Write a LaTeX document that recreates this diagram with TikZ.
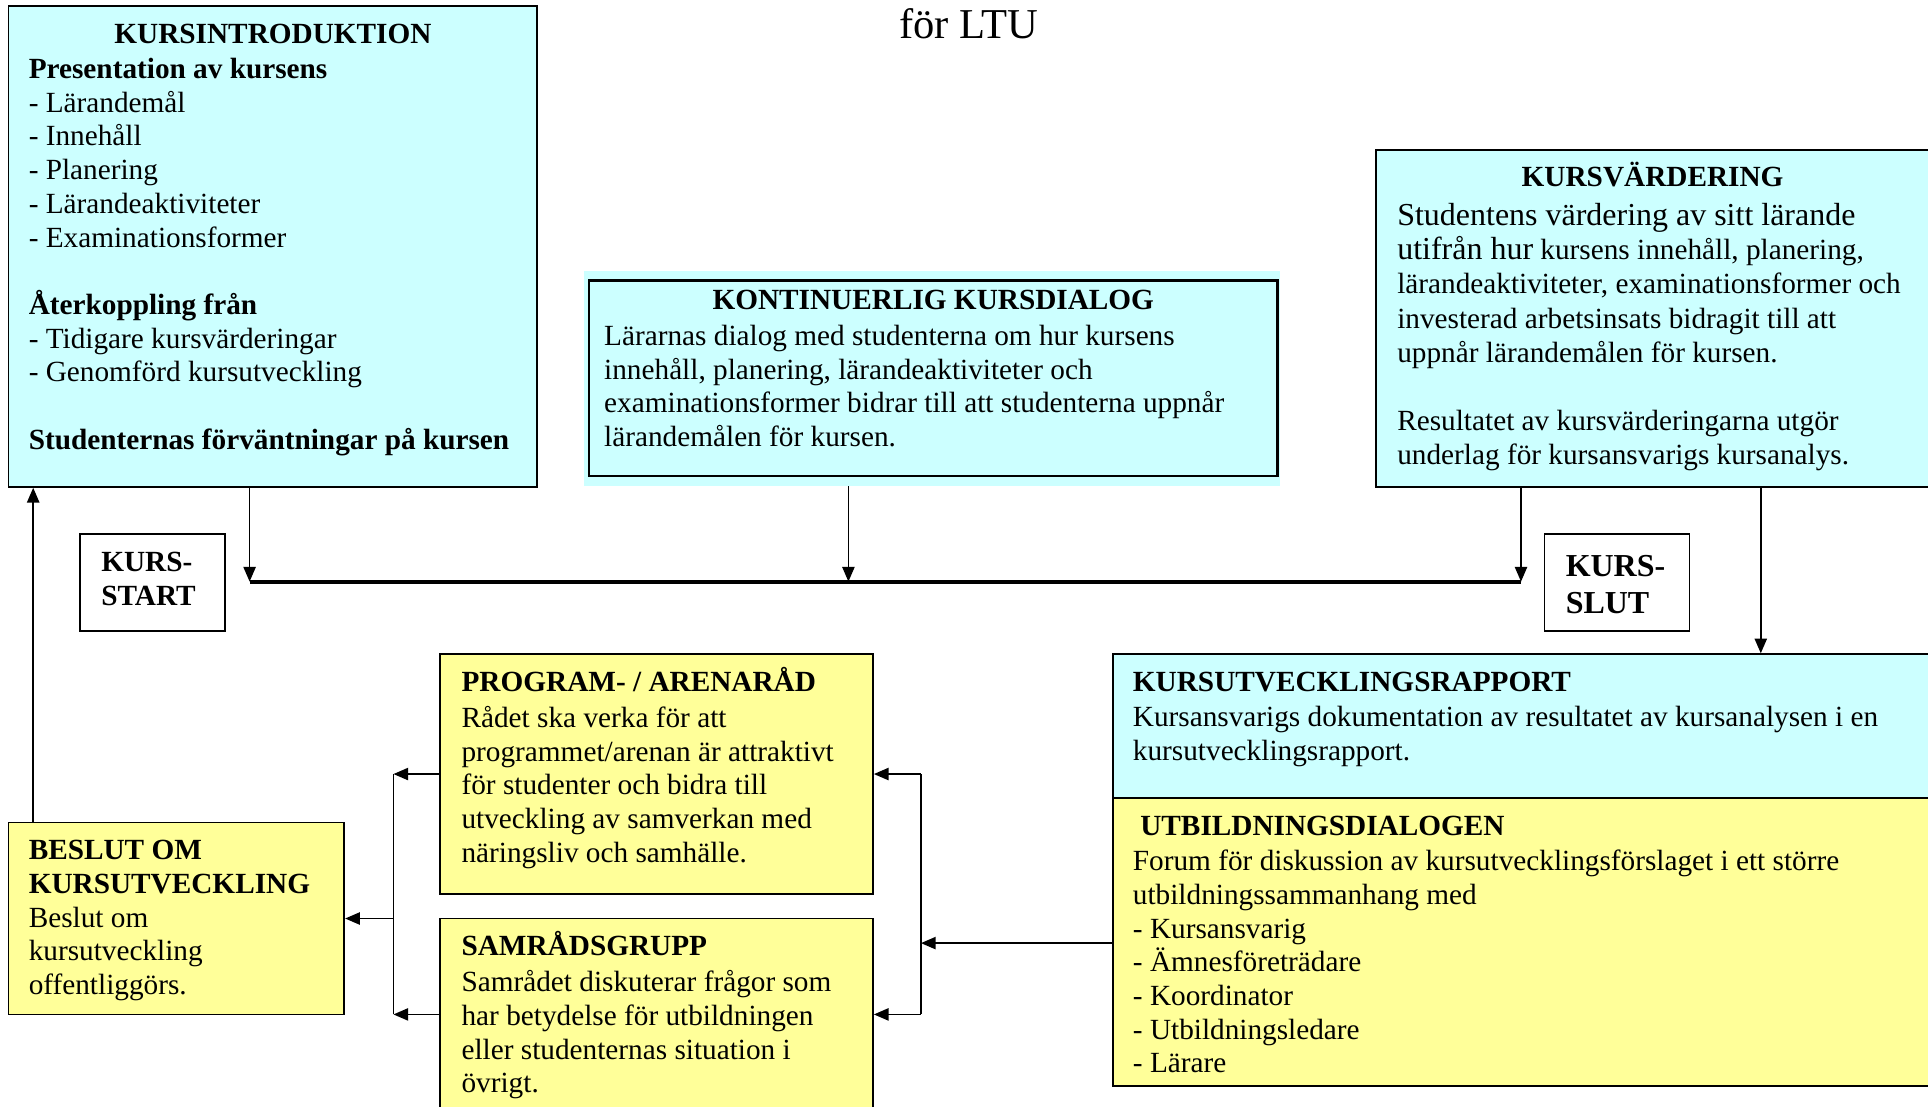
\documentclass[tikz,border=0pt]{standalone}
\usepackage{fontspec}
\setmainfont{Liberation Serif}
\usetikzlibrary{arrows.meta,fit,positioning}
\definecolor{kursblue}{HTML}{CCFFFF}
\definecolor{kursyellow}{HTML}{FFFF99}
\newcommand{\bodyfont}{\fontsize{11.9}{13.7}\selectfont}
\newcommand{\bigfont}{\fontsize{13}{13.9}\selectfont}

\begin{document}
\begin{tikzpicture}[x=0.5pt,y=-0.5pt,
	box/.style={draw, line width=0.7pt, inner sep=0pt},
	cbox/.style={box, fill=kursblue},
	ybox/.style={box, fill=kursyellow},
	txtbase/.style={anchor=north west, align=left, inner sep=0pt, font=\bodyfont,
		execute at begin node={\rule{0pt}{11pt}}},
	txt/.style={txtbase, yshift=8pt},
	lhead/.style={txtbase, yshift=11pt, font=\bodyfont\bfseries},
	head/.style={anchor=base, inner sep=0pt, font=\bodyfont\bfseries},
	arr/.style={-{Triangle[length=6pt,width=5pt]}, line width=0.65pt},
	bus/.style={line width=1.6pt}]
	\useasboundingbox (0,0) rectangle (1568,900);
	\clip (0,0) rectangle (1568,900);
	\node[anchor=base, inner sep=0pt, font=\fontsize{17.3}{20}\selectfont] (title) at (788,31) {för LTU};

	\node[cbox, fit={(7,5) (437,396)}] (intro) {};
	\node[head] (introhd) at (222,35) {KURSINTRODUKTION};
	\node[txt] (introtxt) at (23,63) {\textbf{Presentation av kursens}\\- Lärandemål\\- Innehåll\\- Planering\\- Lärandeaktiviteter\\- Examinationsformer\\[13.7pt]\textbf{Återkoppling från}\\- Tidigare kursvärderingar\\- Genomförd kursutveckling\\[13.7pt]\textbf{Studenternas förväntningar på kursen}};

	\node[fill=kursblue, inner sep=0pt, fit={(475,220) (1041,395)}] (dialogbg) {};
	\node[cbox, line width=1pt, fit={(479,228) (1039,387)}] (dialog) {};
	\node[head] (dialoghd) at (759,252) {KONTINUERLIG KURSDIALOG};
	\node[txt] (dialogtxt) at (491,280) {Lärarnas dialog med studenterna om hur kursens\\innehåll, planering, lärandeaktiviteter och\\examinationsformer bidrar till att studenterna uppnår\\lärandemålen för kursen.};

	\node[cbox, fit={(1119,122) (1590,396)}] (eval) {};
	\node[head] (evalhd) at (1344,152) {KURSVÄRDERING};
	\node[txt, font=\fontsize{11.9}{13.9}\selectfont] (evaltxt) at (1136,181) {{\bigfont Studentens värdering av sitt lärande}\\{\bigfont utifrån hur} kursens innehåll, planering,\\lärandeaktiviteter, examinationsformer och\\investerad arbetsinsats bidragit till att\\uppnår lärandemålen för kursen.\\[13.9pt]Resultatet av kursvärderingarna utgör\\underlag för kursansvarigs kursanalys.};

	\node[box, fit={(65,434) (183,513)}] (start) {};
	\node[txt, font=\bodyfont\bfseries] (starttxt) at (82,465) {KURS-\\START};
	\node[box, fit={(1256,434) (1374,513)}] (slut) {};
	\node[txt, font=\fontsize{13}{15}\selectfont\bfseries] (sluttxt) at (1273,467) {KURS-\\SLUT};

	\node[cbox, fit={(905,532) (1590,649)}] (rapport) {};
	\node[lhead] (rapporthd) at (921,562) {KURSUTVECKLINGSRAPPORT};
	\node[txt] (rapporttxt) at (921,590) {Kursansvarigs dokumentation av resultatet av kursanalysen i en\\kursutvecklingsrapport.};

	\node[ybox, fit={(905,649) (1590,883)}] (utbdialog) {};
	\node[lhead] (utbhd) at (927,679) {UTBILDNINGSDIALOGEN};
	\node[txt] (utbtxt) at (921,707) {Forum för diskussion av kursutvecklingsförslaget i ett större\\utbildningssammanhang med\\- Kursansvarig\\- Ämnesföreträdare\\- Koordinator\\- Utbildningsledare\\- Lärare};

	\node[ybox, fit={(358,532) (710,727)}] (prog) {};
	\node[lhead] (proghd) at (375,562) {PROGRAM- / ARENARÅD};
	\node[txt] (progtxt) at (375,590) {Rådet ska verka för att\\programmet/arenan är attraktivt\\för studenter och bidra till\\utveckling av samverkan med\\näringsliv och samhälle.};

	\node[ybox, fit={(358,747) (710,903)}] (samrad) {};
	\node[lhead] (samradhd) at (375,777) {SAMRÅDSGRUPP};
	\node[txt] (samradtxt) at (375,805) {Samrådet diskuterar frågor som\\har betydelse för utbildningen\\eller studenternas situation i\\övrigt.};

	\node[ybox, fit={(7,669) (280,825)}] (beslut) {};
	\node[txt] (besluttxt) at (23,699) {\textbf{BESLUT OM}\\\textbf{KURSUTVECKLING}\\Beslut om\\kursutveckling\\offentliggörs.};

	\coordinate (busL) at (203,473);
	\coordinate (busM) at (690,473);
	\coordinate (busR) at (1237,473);
	\coordinate (evdown) at (1432,532);
	\coordinate (forkR) at (749,767);
	\coordinate (forkL) at (320,747);
	\coordinate (back) at (27,396);
	\draw[bus] (busL) -- (busR);
	\draw[arr] (intro.south -| busL) -- (busL);
	\draw[arr] (dialogbg.south -| busM) -- (busM);
	\draw[arr] (eval.south -| busR) -- (busR);
	\draw[arr] (eval.south -| evdown) -- (rapport.north -| evdown);
	\draw[arr] (utbdialog.west |- forkR) -- (forkR);
	\draw[line width=0.65pt] (prog.east -| forkR) -- (samrad.east -| forkR);
	\draw[arr] (prog.east -| forkR) -- (prog.east);
	\draw[arr] (samrad.east -| forkR) -- (samrad.east);
	\draw[line width=0.65pt] (prog.west -| forkL) -- (samrad.west -| forkL);
	\draw[arr] (prog.west) -- (prog.west -| forkL);
	\draw[arr] (samrad.west) -- (samrad.west -| forkL);
	\draw[arr] (forkL) -- (forkL -| beslut.east);
	\draw[arr] (beslut.north -| back) -- (intro.south -| back);
\end{tikzpicture}
\end{document}
